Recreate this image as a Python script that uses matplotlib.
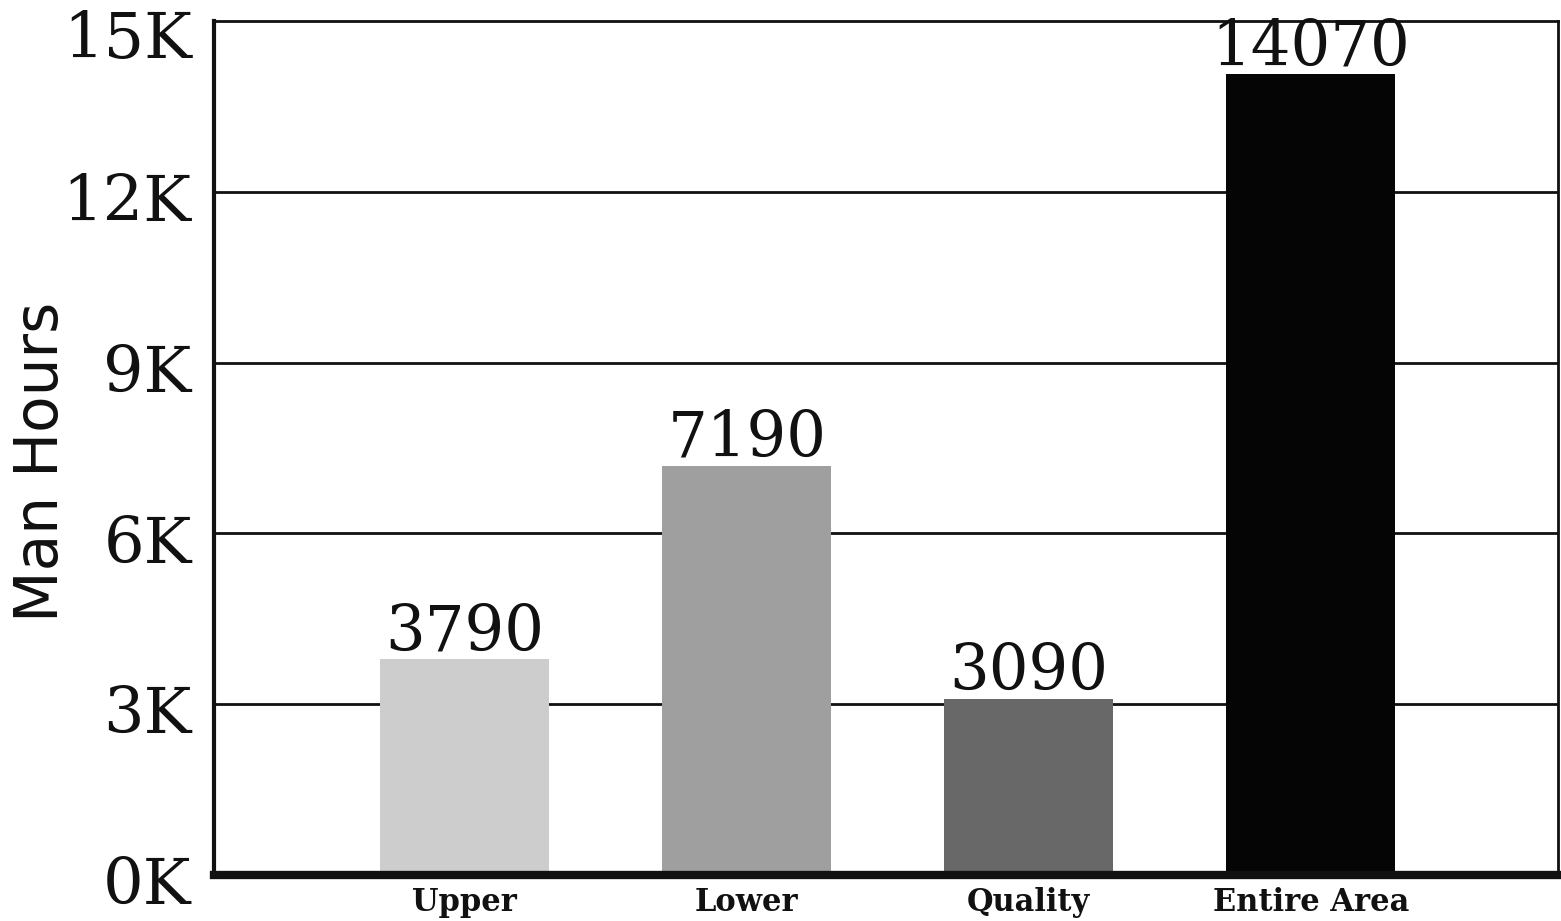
import matplotlib.pyplot as plt
import matplotlib.transforms as mtransforms
import numpy as np

categories = ['Upper', 'Lower', 'Quality', 'Entire Area']
man_hours = [3790, 7190, 3090, 14070]
bar_colors = ['#cdcdcd', '#9f9f9f', '#686868', '#050505']
y_ticks = [0, 3000, 6000, 9000, 12000, 15000]
y_tick_labels = ['0K', '3K', '6K', '9K', '12K', '15K']

fig = plt.figure(figsize=(15.61, 9.21), dpi=100)
ax = fig.add_axes([0.137, 0.050, 0.861, 0.927])

x = np.arange(len(categories))
ax.bar(x, man_hours, width=0.6, color=bar_colors, zorder=3)

# horizontal rules behind the bars
for v in y_ticks[1:-1]:
    ax.axhline(v, color='#111111', lw=2, zorder=1)

ax.set_xlim(-0.89, 3.876)
ax.set_ylim(0, 15000)
ax.set_yticks(y_ticks)
ax.set_yticklabels(y_tick_labels, family='DejaVu Serif', fontsize=46)
ax.set_xticks(x)
ax.set_xticklabels(categories, family='DejaVu Serif', fontsize=22, fontweight='bold')
ax.tick_params(axis='both', length=0, colors='#111111')
ax.tick_params(axis='y', pad=16)
ax.tick_params(axis='x', pad=9)

# nudge the y tick labels down a little, the top one a bit more
shift = mtransforms.ScaledTranslation(0, -5 / 100, fig.dpi_scale_trans)
for lab in ax.get_yticklabels():
    lab.set_transform(lab.get_transform() + shift)
top_lab = ax.get_yticklabels()[-1]
top_lab.set_transform(top_lab.get_transform()
                      + mtransforms.ScaledTranslation(0, -8 / 100, fig.dpi_scale_trans))

for side in ['top', 'right']:
    ax.spines[side].set_linewidth(2)
ax.spines['left'].set_linewidth(3)
ax.spines['bottom'].set_linewidth(6)
for s in ax.spines.values():
    s.set_color('#111111')
    s.set_zorder(4)

for xi, v in zip(x, man_hours):
    ax.text(xi, v + 160, str(v), ha='center', va='baseline',
            family='DejaVu Serif', fontsize=45, color='#111111', zorder=5)

fig.text(42 / 1561, 1 - 462 / 921, 'Man Hours', rotation=90, ha='center', va='center',
         family='DejaVu Sans', fontsize=43, color='#111111')

fig.savefig('out.png', dpi=100)
